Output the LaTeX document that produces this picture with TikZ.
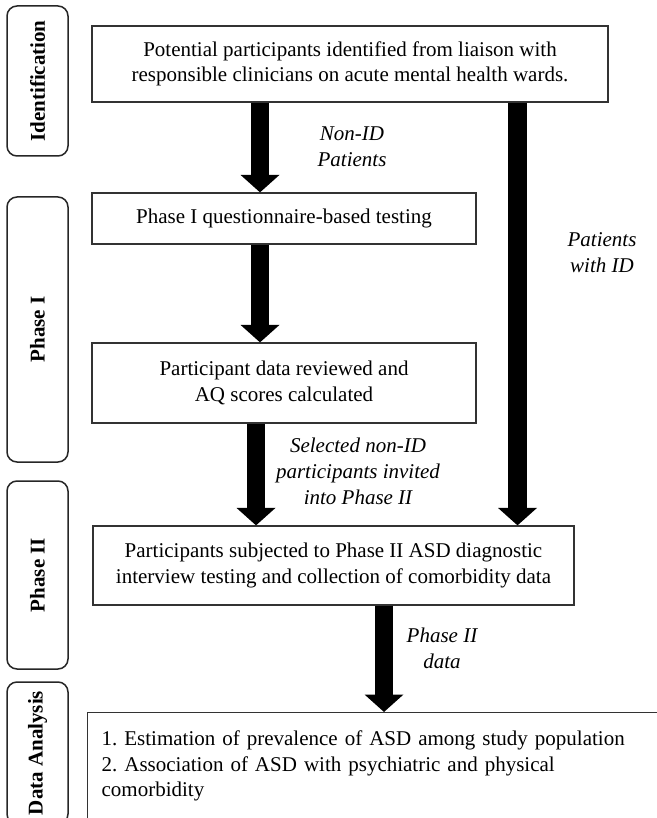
\documentclass[tikz,border=0pt]{standalone}
\usepackage{fontspec}
\setmainfont{Liberation Serif}
\usetikzlibrary{shapes.geometric, arrows.meta}
\frenchspacing

\begin{document}
\begin{tikzpicture}[node distance=1.5cm, font=\fontsize{10.5}{12.75}\selectfont]
      \tikzstyle{phase} = [rectangle, rounded corners=5pt, rotate=90, minimum height=30.5pt, text centered, draw=black!85, line width=0.75pt, font=\fontsize{10.5}{12.75}\selectfont\bfseries]
      \tikzstyle{process} = [rectangle, text centered, align=center, draw=black!80, line width=0.6pt]
      \tikzstyle{note} = [align=center, font=\fontsize{10.5}{13}\selectfont\itshape]
      \tikzstyle{arrow} = [line width=9.25pt, -{Triangle[length=8.75pt, width=19pt]}]

      \useasboundingbox (0,0) rectangle (328.5pt,-409pt);
      \clip (0,0) rectangle (328.5pt,-409pt);

      % stages down the left side
      \node (sideid) [phase, minimum width=75pt] at (18.75pt,-40.5pt) {Identification};
      \node (sideone) [phase, minimum width=132.5pt] at (18.75pt,-164.75pt) {Phase I};
      \node (sidetwo) [phase, minimum width=94pt] at (18.75pt,-287.5pt) {Phase II};
      \node (sidedata) [phase, minimum width=71pt] at (18.75pt,-376.5pt) {Data Analysis};

      \node (ident) [process, minimum width=258pt, minimum height=38pt] at (175pt,-32pt) {Potential participants identified from liaison with\\responsible clinicians on acute mental health wards.};
      \node (quest) [process, node distance=77.25pt, below of=ident, xshift=-33pt, minimum width=192pt, minimum height=25.5pt] {Phase I questionnaire-based testing};
      \node (review) [process, node distance=82.25pt, below of=quest, minimum width=192pt, minimum height=40pt] {Participant data reviewed and\\AQ scores calculated};
      \node (interview) [process, node distance=91.25pt, below of=review, xshift=24.75pt, minimum width=240.5pt, minimum height=39.5pt] {Participants subjected to Phase II ASD diagnostic\\interview testing and collection of comorbidity data};
      \node (analysis) [process, anchor=north west, text width=292.5pt, align=left, inner xsep=7pt, inner ysep=9.3pt] at (43.5pt,-356pt) {1. Estimation of prevalence of ASD among study population\\2. Association of ASD with psychiatric and physical\\comorbidity};

      \coordinate (a1) at ([xshift=-12pt]quest.north);
      \draw [arrow] (ident.south -| a1) -- (a1);
      \draw [arrow] (quest.south -| a1) -- (review.north -| a1);
      \coordinate (a3) at ([xshift=-38.75pt]interview.north);
      \draw [arrow] (review.south -| a3) -- (a3);
      \coordinate (a4) at ([xshift=25.25pt]interview.south);
      \draw [arrow] (a4) -- (a4 |- analysis.north);
      \coordinate (ar) at ([xshift=83.75pt]ident.south);
      \draw [arrow] (ar) -- (ar |- interview.north);

      \node (nonid) [note] at (176pt,-73.4pt) {Non-ID\\Patients};
      \node (withid) [note] at (301pt,-126.2pt) {Patients\\with ID};
      \node (selected) [note] at (179pt,-235.9pt) {Selected non-ID\\participants invited\\into Phase II};
      \node (phasedata) [note] at (221pt,-324.2pt) {Phase II\\data};

\end{tikzpicture}
\end{document}
